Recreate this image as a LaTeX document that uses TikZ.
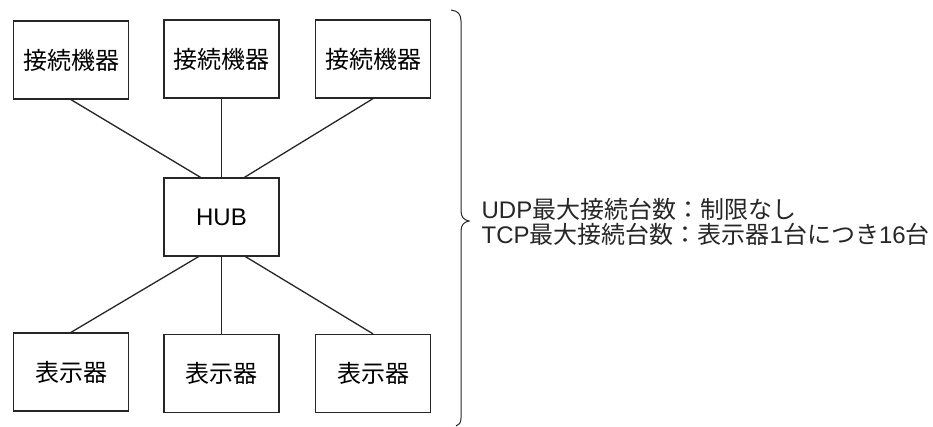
\documentclass[tikz,border=0pt]{standalone}
\usepackage{fontspec}
\setmainfont{Liberation Sans}
\newfontfamily\jp{Noto Sans CJK JP}

\begin{document}
\begin{tikzpicture}[x=1pt, y=-1pt, line width=1.3pt,
    box/.style={draw=black!85, minimum width=115pt, minimum height=78pt, inner sep=0pt, font=\fontsize{24}{28}\selectfont},
    wire/.style={draw=black!85}]
    		\useasboundingbox (0, 0) rectangle (933, 427);
    		\node[box] (dev1) at (71, 60) {\jp 接続機器};
    		\node[box] (dev2) at (221.5, 59) {\jp 接続機器};
    		\node[box] (dev3) at (373, 59) {\jp 接続機器};
    		\node[box] (hub) at (221.5, 217) {HUB};
    		\node[box] (disp1) at (71, 372) {\jp 表示器};
    		\node[box] (disp2) at (221.5, 373.5) {\jp 表示器};
    		\node[box] (disp3) at (373, 373.5) {\jp 表示器};
    		\draw[wire] (dev1.south)--([xshift=-21pt]hub.north);
    		\draw[wire] (dev2.south)--(hub.north);
    		\draw[wire] (dev3.south)--([xshift=23pt]hub.north);
    		\draw[wire] ([xshift=-23pt]hub.south)--(disp1.north);
    		\draw[wire] (hub.south)--(disp2.north);
    		\draw[wire] ([xshift=24pt]hub.south)--(disp3.north);
    		% brace
    		\draw[black!85, line width=1pt] (451, 10) .. controls (458, 11) and (461, 14) .. (461, 21)--(461, 211) .. controls (461, 217) and (464, 220) .. (469, 221) .. controls (464, 222) and (461, 225) .. (461, 231)--(461, 418) .. controls (461, 423) and (459, 425) .. (456, 426);
    		\node[anchor=west, align=left, inner sep=0pt, text=black!85, font=\fontsize{24}{25}\selectfont] (note) at (481, 222) {UDP{\jp 最大接続台数：制限なし}\\TCP{\jp 最大接続台数：表示器}1{\jp 台につき}16{\jp 台}};
    	\end{tikzpicture}
\end{document}
